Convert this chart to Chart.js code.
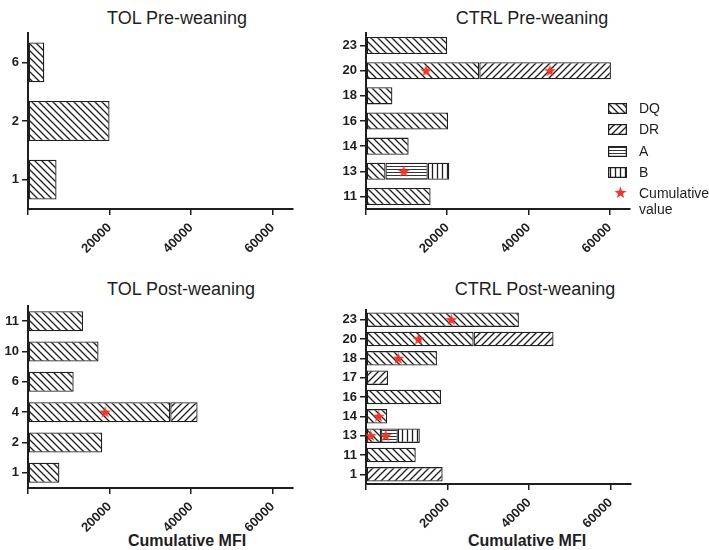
<!DOCTYPE html>
<html>
<head>
<meta charset="utf-8">
<script src="https://cdn.jsdelivr.net/npm/chart.js@4.4.1/dist/chart.umd.min.js"></script>
<style>
  body { margin: 0; background: #fff; }
  #page { position: relative; width: 709px; height: 550px; overflow: hidden;
          font-family: 'Liberation Sans', Arial, sans-serif; color: #1e1e1e; }
  #page canvas { position: absolute; }
  .title { position: absolute; font-size: 18px; line-height: 18px; white-space: nowrap; transform: translateX(-50%); }
  .xtitle { position: absolute; font-size: 16px; line-height: 16px; font-weight: bold; white-space: nowrap; transform: translateX(-50%); }
  .key { position: absolute; left: 608px; font-size: 14px; line-height: 16px; white-space: nowrap; }
  .key canvas { position: static !important; vertical-align: middle; margin-right: 12px; }
  .key span { vertical-align: middle; }
</style>
</head>
<body>
<div id="page">
  <div class="title" style="left:177px; top:9px">TOL Pre-weaning</div>
  <div class="title" style="left:532px; top:9px">CTRL Pre-weaning</div>
  <div class="title" style="left:181px; top:280px">TOL Post-weaning</div>
  <div class="title" style="left:535px; top:280px">CTRL Post-weaning</div>
  <div class="xtitle" style="left:187px; top:533px">Cumulative MFI</div>
  <div class="xtitle" style="left:527px; top:533px">Cumulative MFI</div>

  <canvas id="tolPre" width="340" height="265" style="left:0; top:0"></canvas>
  <canvas id="ctrlPre" width="369" height="265" style="left:340px; top:0"></canvas>
  <canvas id="tolPost" width="340" height="280" style="left:0; top:270px"></canvas>
  <canvas id="ctrlPost" width="369" height="280" style="left:340px; top:270px"></canvas>

  <div id="legend"></div>
</div>
<script>
// patient ids per panel, top to bottom
const tolPreLabels = ['6', '2', '1'];
const tolPreDQ = [4000, 20000, 7000];

const ctrlPreLabels = ['23', '20', '18', '16', '14', '13', '11'];
const ctrlPreDQ = [20000, 27900, 6500, 20200, 10500, 4800, 15900];
const ctrlPreDR = [null, 32400, null, null, null, null, null];
const ctrlPreA = [null, null, null, null, null, 10400, null];
const ctrlPreB = [null, null, null, null, null, 5300, null];
const ctrlPreStars = [['20', 14800], ['20', 45300], ['13', 9300]];

const tolPostLabels = ['11', '10', '6', '4', '2', '1'];
const tolPostDQ = [13500, 17300, 11200, 34900, 18200, 7700];
const tolPostDR = [null, null, null, 6700, null, null];
const tolPostStars = [['4', 18900]];

const ctrlPostLabels = ['23', '20', '18', '17', '16', '14', '13', '11', '1'];
const ctrlPostDQ = [37500, 26400, 17400, null, 18400, 5200, 3700, 12200, null];
const ctrlPostDR = [null, 19600, null, 5400, null, null, null, null, 18800];
const ctrlPostA = [null, null, null, null, null, null, 4100, null, null];
const ctrlPostB = [null, null, null, null, null, null, 5400, null, null];
const ctrlPostStars = [['23', 20900], ['20', 12900], ['18', 7900], ['14', 3100], ['13', 1150], ['13', 4850]];

const xTicks = [20000, 40000, 60000];

const INK = '#1e1e1e';
const STAR = '#e8392f';
const FONT = "'Liberation Sans', Arial, sans-serif";

function tile(kind) {
  const c = document.createElement('canvas');
  const s = kind === 'A' ? 3 : kind === 'B' ? 5 : 7;
  c.width = s; c.height = s;
  const ctx = c.getContext('2d');
  ctx.fillStyle = '#fff';
  ctx.fillRect(0, 0, s, s);
  ctx.strokeStyle = INK;
  ctx.lineWidth = kind === 'A' ? 0.9 : 1.3;
  ctx.beginPath();
  if (kind === 'DQ') {
    ctx.moveTo(-1, -1); ctx.lineTo(s + 1, s + 1);
    ctx.moveTo(-1, s - 1); ctx.lineTo(1, s + 1);
    ctx.moveTo(s - 1, -1); ctx.lineTo(s + 1, 1);
  } else if (kind === 'DR') {
    ctx.moveTo(-1, s + 1); ctx.lineTo(s + 1, -1);
    ctx.moveTo(-1, 1); ctx.lineTo(1, -1);
    ctx.moveTo(s - 1, s + 1); ctx.lineTo(s + 1, s - 1);
  } else if (kind === 'A') {
    ctx.moveTo(0, 1.5); ctx.lineTo(s, 1.5);
  } else {
    ctx.moveTo(2.5, 0); ctx.lineTo(2.5, s);
  }
  ctx.stroke();
  return ctx.createPattern(c, 'repeat');
}

const patterns = { DQ: tile('DQ'), DR: tile('DR'), A: tile('A'), B: tile('B') };

function starImage() {
  const c = document.createElement('canvas');
  c.width = 13; c.height = 13;
  const ctx = c.getContext('2d');
  ctx.fillStyle = STAR;
  ctx.beginPath();
  for (let i = 0; i < 10; i++) {
    const r = i % 2 ? 2.6 : 6.3;
    const a = -Math.PI / 2 + i * Math.PI / 5;
    ctx.lineTo(6.5 + r * Math.cos(a), 6.9 + r * Math.sin(a));
  }
  ctx.closePath();
  ctx.fill();
  return c;
}
const starImg = starImage();

function panel(id, labels, series, stars, box) {
  const datasets = series.map(([name, data]) => ({
    label: name,
    data: data,
    backgroundColor: patterns[name],
    borderColor: INK,
    borderWidth: 1.3,
    borderSkipped: false,
    barPercentage: box.bar,
    categoryPercentage: 1,
    order: 2
  }));
  if (stars) {
    datasets.push({
      type: 'line',
      label: 'Cumulative value',
      data: stars.map(([y, x]) => ({ x, y })),
      showLine: false,
      pointStyle: starImg,
      stack: 'stars',
      order: 0
    });
  }
  new Chart(document.getElementById(id), {
    type: 'bar',
    data: { labels, datasets },
    options: {
      indexAxis: 'y',
      responsive: false,
      animation: false,
      layout: { padding: { top: box.top, right: box.right, left: 0, bottom: 0 } },
      plugins: { legend: { display: false }, tooltip: { enabled: false } },
      scales: {
        x: {
          type: 'linear',
          stacked: true,
          min: 0,
          max: 65000,
          afterBuildTicks: s => { s.ticks = [0, ...xTicks].map(v => ({ value: v })); },
          ticks: {
            minRotation: 45, maxRotation: 45, padding: 5, color: INK,
            font: { family: FONT, size: 13, weight: 'bold' },
            callback: v => v === 0 ? '' : String(v)
          },
          grid: { drawOnChartArea: false, tickLength: 6, color: INK, lineWidth: 1.5 },
          border: { color: INK, width: 2 },
          afterFit: s => { s.height = box.xh; }
        },
        y: {
          type: 'category',
          stacked: true,
          offset: true,
          ticks: { padding: 3, color: INK, font: { family: FONT, size: 13, weight: 'bold' } },
          grid: { offset: false, drawOnChartArea: false, tickLength: 6, color: INK, lineWidth: 1.5 },
          border: { color: INK, width: 2 },
          afterFit: s => { s.width = box.yw; }
        }
      }
    }
  });
}

panel('tolPre', tolPreLabels, [['DQ', tolPreDQ]], null,
  { top: 33, right: 47, yw: 28, xh: 56, bar: 0.68 });
panel('ctrlPre', ctrlPreLabels,
  [['DQ', ctrlPreDQ], ['DR', ctrlPreDR], ['A', ctrlPreA], ['B', ctrlPreB]], ctrlPreStars,
  { top: 33, right: 79, yw: 26, xh: 56, bar: 0.68 });
panel('tolPost', tolPostLabels, [['DQ', tolPostDQ], ['DR', tolPostDR]], tolPostStars,
  { top: 36, right: 47, yw: 28, xh: 62, bar: 0.66 });
panel('ctrlPost', ctrlPostLabels,
  [['DQ', ctrlPostDQ], ['DR', ctrlPostDR], ['A', ctrlPostA], ['B', ctrlPostB]], ctrlPostStars,
  { top: 40, right: 78, yw: 26, xh: 66, bar: 0.75 });

// key beside the CTRL pre-weaning panel
const legend = document.getElementById('legend');
const rows = [['DQ', 99], ['DR', 120], ['A', 142], ['B', 163]];
rows.forEach(([name, top]) => {
  const row = document.createElement('div');
  row.className = 'key';
  row.style.top = top + 'px';
  const sw = document.createElement('canvas');
  sw.width = 19; sw.height = 11;
  const g = sw.getContext('2d');
  g.fillStyle = patterns[name];
  g.fillRect(0, 0, 19, 11);
  g.strokeStyle = INK; g.lineWidth = 1.3;
  g.strokeRect(0.6, 0.6, 17.8, 9.8);
  row.appendChild(sw);
  const t = document.createElement('span');
  t.textContent = name;
  row.appendChild(t);
  legend.appendChild(row);
});
const starRow = document.createElement('div');
starRow.className = 'key';
starRow.style.top = '185px';
starRow.style.left = '614px';
const starSw = document.createElement('canvas');
starSw.width = 13; starSw.height = 13;
starSw.getContext('2d').drawImage(starImg, 0, 0);
starSw.style.verticalAlign = 'top';
starSw.style.marginTop = '1px';
starRow.appendChild(starSw);
const starText = document.createElement('span');
starText.style.display = 'inline-block';
starText.style.verticalAlign = 'top';
starText.innerHTML = 'Cumulative<br>value';
starRow.appendChild(starText);
legend.appendChild(starRow);
</script>
</body>
</html>
